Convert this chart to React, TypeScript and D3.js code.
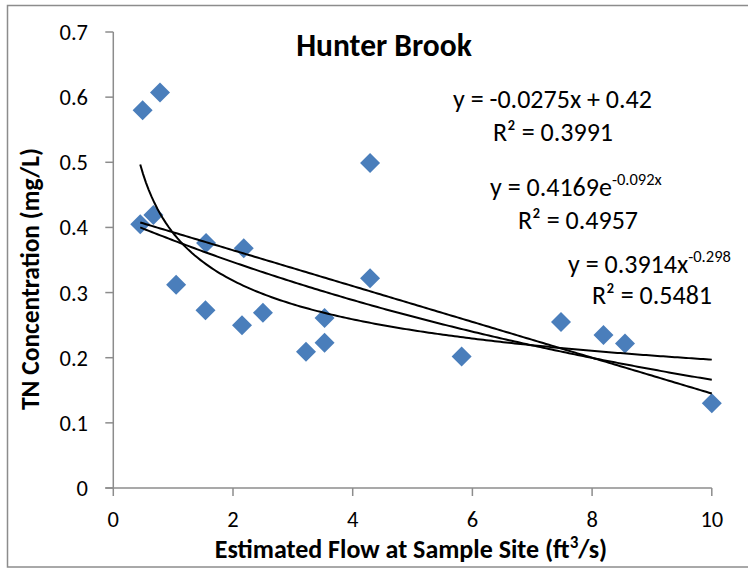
import React from "react";
import * as d3 from "d3";

const flowX = [0.45, 0.49, 0.78, 0.67, 1.05, 1.55, 1.54, 2.18, 2.15, 2.5, 3.22, 3.53, 3.53, 4.29, 4.29, 5.82, 7.48, 8.19, 8.55, 10.0];
const tnY = [0.405, 0.58, 0.607, 0.419, 0.312, 0.376, 0.273, 0.368, 0.25, 0.269, 0.209, 0.261, 0.223, 0.499, 0.322, 0.202, 0.255, 0.235, 0.222, 0.13];

const xTicks = [0, 2, 4, 6, 8, 10];
const yTicks = [0, 0.1, 0.2, 0.3, 0.4, 0.5, 0.6, 0.7];

// trendline coefficients [a, b]
const linearCoef = [-0.0275, 0.42];
const expCoef = [0.4169, -0.092];
const powerCoef = [0.3914, -0.298];

const FONT = "Carlito, Calibri, Lato, sans-serif";

export default function App() {
  const W = 748, H = 569;
  const x = d3.scaleLinear().domain([0, 10]).range([113.3, 711.8]);
  const y = d3.scaleLinear().domain([0, 0.7]).range([488, 32]);

  const xMin = d3.min(flowX) as number;
  const xMax = d3.max(flowX) as number;
  const xs = d3.range(0, 201).map((i) => xMin + ((xMax - xMin) * i) / 200);
  const line = d3.line<[number, number]>().x((d) => x(d[0])).y((d) => y(d[1]));
  const fLin = (v: number) => linearCoef[0] * v + linearCoef[1];
  const fExp = (v: number) => expCoef[0] * Math.exp(expCoef[1] * v);
  const fPow = (v: number) => powerCoef[0] * Math.pow(v, powerCoef[1]);
  const trends = [fLin, fExp, fPow].map((f) => line(xs.map((v) => [v, f(v)] as [number, number])) || "");

  const diamond = d3.symbol().type(d3.symbolSquare).size(200)() || "";

  const annSize = 26;
  const supSize = 16.5;
  const tickSize = 22.5;

  return (
    <svg width={W} height={H} style={{ position: "absolute", left: 0, top: 0, background: "#fff" }} fontFamily={FONT}>
      <rect x={7.5} y={5.5} width={760} height={561.5} fill="#fff" stroke="#8c8c8c" strokeWidth={1.5} />
      {/* axes */}
      <line x1={x(0)} x2={x(0)} y1={y(0)} y2={y(0.7)} stroke="#8c8c8c" strokeWidth={1.5} />
      <line x1={x(0) - 8} x2={x(10)} y1={y(0)} y2={y(0)} stroke="#8c8c8c" strokeWidth={1.5} />
      {yTicks.map((t) => (
        <g key={"y" + t}>
          <line x1={x(0) - 8} x2={x(0)} y1={y(t)} y2={y(t)} stroke="#8c8c8c" strokeWidth={1.5} />
          <text x={88} y={y(t) + 8} textAnchor="end" fontSize={tickSize} fill="#000">
            {t === 0 ? "0" : d3.format(".1f")(t)}
          </text>
        </g>
      ))}
      {xTicks.map((t) => (
        <g key={"x" + t}>
          <line x1={x(t)} x2={x(t)} y1={y(0)} y2={y(0) + 8} stroke="#8c8c8c" strokeWidth={1.5} />
          <text x={x(t)} y={527} textAnchor="middle" fontSize={tickSize} fill="#000">
            {t}
          </text>
        </g>
      ))}
      {/* points */}
      {flowX.map((v, i) => (
        <path key={"p" + i} d={diamond} transform={`translate(${x(v)},${y(tnY[i])}) rotate(45)`} fill="#4a7ebb" />
      ))}
      {/* trendlines */}
      {trends.map((d, i) => (
        <path key={"t" + i} d={d} fill="none" stroke="#000" strokeWidth={2} />
      ))}
      {/* title */}
      <text x={384} y={56} textAnchor="middle" fontSize={31.5} fontWeight="bold">Hunter Brook</text>
      {/* axis titles */}
      <text x={411} y={558} textAnchor="middle" fontSize={26} fontWeight="bold">
        Estimated Flow at Sample Site (ft<tspan dy={-10} fontSize={17}>3</tspan><tspan dy={10}>/s)</tspan>
      </text>
      <text transform="translate(39,279) rotate(-90)" textAnchor="middle" fontSize={25.5} fontWeight="bold">
        TN Concentration (mg/L)
      </text>
      {/* annotations */}
      <text x={453} y={108} fontSize={annSize}>y = -0.0275x + 0.42</text>
      <text x={493} y={141} fontSize={annSize}>R² = 0.3991</text>
      <text x={490} y={196} fontSize={annSize}>
        y = 0.4169e<tspan dy={-11} fontSize={supSize}>-0.092x</tspan>
      </text>
      <text x={518} y={229} fontSize={annSize}>R² = 0.4957</text>
      <text x={568} y={273} fontSize={annSize}>
        y = 0.3914x<tspan dy={-11} fontSize={supSize}>-0.298</tspan>
      </text>
      <text x={592} y={304} fontSize={annSize}>R² = 0.5481</text>
    </svg>
  );
}
